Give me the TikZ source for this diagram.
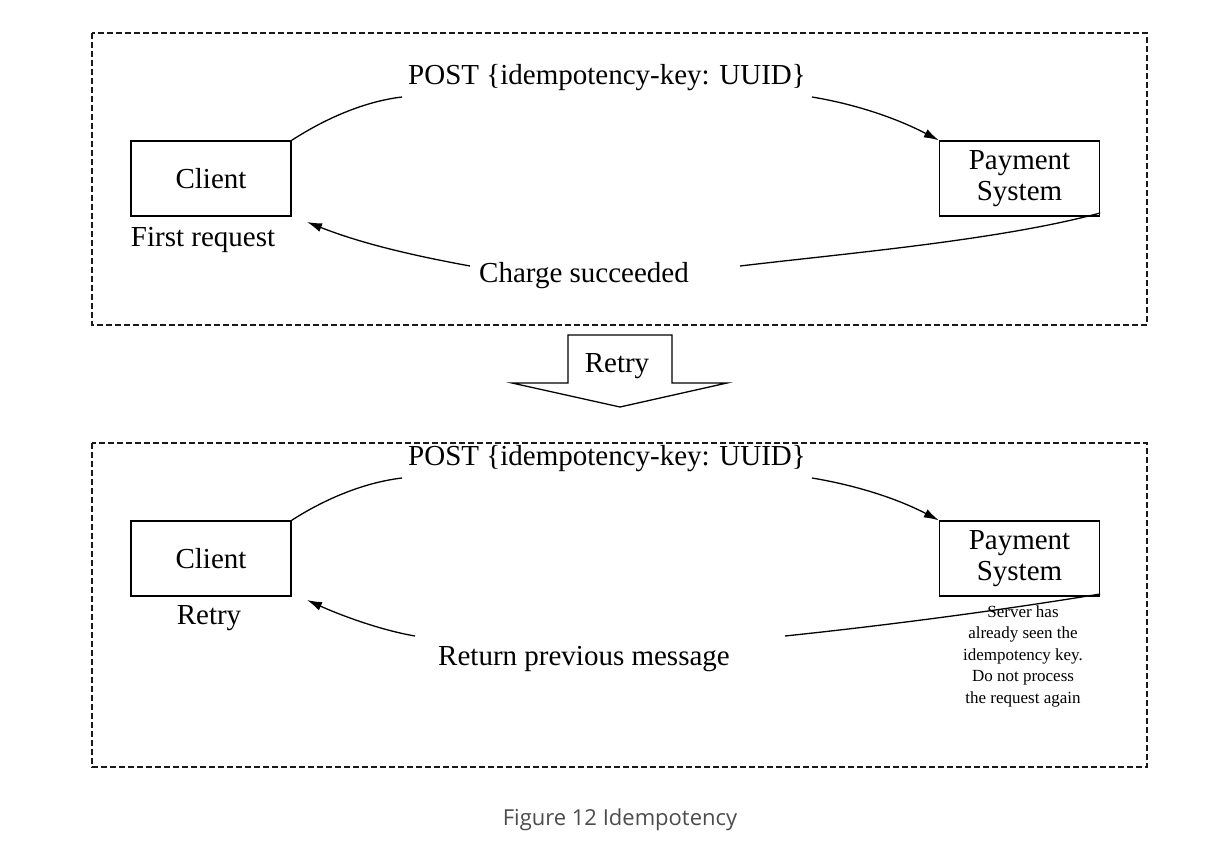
\documentclass[tikz,border=0pt]{standalone}
\usepackage{fontspec}
\setmainfont{Liberation Serif}
\newfontfamily\capfont{Open Sans}
\usetikzlibrary{arrows.meta}
\begin{document}
\begin{tikzpicture}[x=1pt,y=-1pt,line width=1.3pt,
  boxn/.style={draw,minimum width=160pt,minimum height=75pt,inner sep=0pt,font=\fontsize{29}{31}\selectfont,align=center},
  lbl/.style={font=\fontsize{29}{32}\selectfont,inner sep=1pt},
  note/.style={font=\fontsize{17}{21.5}\selectfont,align=center,inner sep=0pt},
  frame/.style={draw,dash pattern=on 6pt off 3pt,gray!20!black},
  conn/.style={-{Latex[length=15pt,width=9pt]}}]
\useasboundingbox (0,0) rectangle (1226,850);
% top
\draw[frame] (92,33) rectangle (1147,325);
\node[boxn] (c1) at (211,178.5) {Client};
\node[boxn] (p1) at (1019.5,178.5) {Payment\\System};
\node[lbl] (t1) at (607,78) {POST \{idempotency-key: UUID\}};
\node[lbl] (r1) at (584,276) {Charge succeeded};
\node[lbl] (f1) at (203,240) {First request};
\coordinate (a1) at (402,97);
\coordinate (b1) at (812,97);
\coordinate (d1) at (740,266);
\coordinate (e1) at (470,266);
\draw (c1.north east) .. controls (320,122) and (360,102) .. (a1);
\draw[conn] (b1) .. controls (860,105) and (900,120) .. (p1.north west);
\draw (p1.east |- 0,213) .. controls (1000,240) and (850,253) .. (d1);
\draw[conn] (e1) .. controls (410,255) and (360,243) .. (307,222);
% retry arrow
\draw[fill=white] (568,335) -- (672,335) -- (672,383) -- (727,383) -- (620,407) -- (512,383) -- (568,383) -- cycle;
\node[lbl] (rt) at (617,366) {Retry};
% bottom
\draw[frame] (92,443) rectangle (1147,767);
\node[boxn] (c2) at (211,558.5) {Client};
\node[boxn] (p2) at (1019.5,558.5) {Payment\\System};
\node[lbl] (t2) at (607,459) {POST \{idempotency-key: UUID\}};
\node[lbl] (r2) at (584,659) {Return previous message};
\node[lbl] (f2) at (209,618) {Retry};
\node[note] (n2) at (1023,656) {Server has\\already seen the\\idempotency key.\\Do not process\\the request again};
\coordinate (a2) at (402,478);
\coordinate (b2) at (812,478);
\coordinate (d2) at (785,636);
\coordinate (e2) at (415,636);
\draw (c2.north east) .. controls (320,502) and (360,483) .. (a2);
\draw[conn] (b2) .. controls (860,486) and (900,500) .. (p2.north west);
\draw (p2.east |- 0,594) .. controls (990,612) and (880,626) .. (d2);
\draw[conn] (e2) .. controls (380,630) and (340,615) .. (307,600);
\node[font=\capfont\fontsize{22}{25}\selectfont,text=gray!60!black] (cap) at (620,820) {Figure 12 Idempotency};
\end{tikzpicture}
\end{document}
